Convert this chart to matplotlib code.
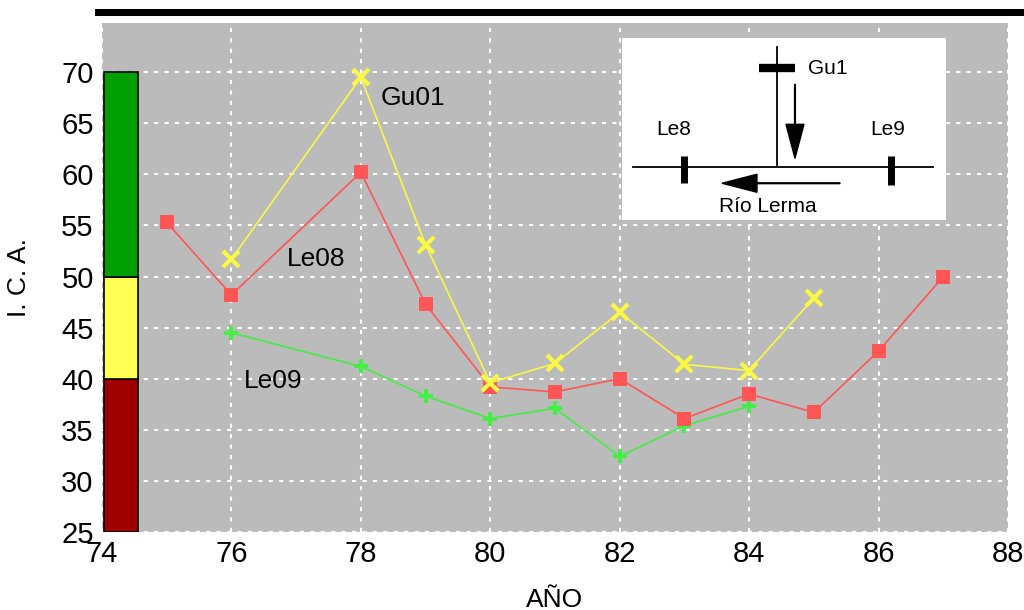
import matplotlib
matplotlib.use("Agg")
import matplotlib.pyplot as plt
from matplotlib.patches import Rectangle, FancyArrow

plt.rcParams["font.family"] = ["Liberation Sans", "DejaVu Sans"]

# data
LE08_YEARS = [75, 76, 78, 79, 80, 81, 82, 83, 84, 85, 86, 87]
LE08_ICA   = [55.3, 48.2, 60.2, 47.3, 39.2, 38.7, 40.0, 36.1, 38.5, 36.7, 42.7, 50.0]

GU01_YEARS = [76, 78, 79, 80, 81, 82, 83, 84, 85]
GU01_ICA   = [51.7, 69.5, 53.1, 39.6, 41.5, 46.5, 41.4, 40.8, 47.9]

LE09_YEARS = [76, 78, 79, 80, 81, 82, 83, 84]
LE09_ICA   = [44.5, 41.2, 38.3, 36.1, 37.1, 32.4, 35.4, 37.3]

# quality bands on the left colour bar
BAND_LOW    = [25, 40, 50]
BAND_HEIGHT = [15, 10, 20]
BAND_COLORS = ["#A00000", "#FFFF55", "#00A000"]

X_TICKS = [74, 76, 78, 80, 82, 84, 86, 88]
Y_TICKS = [25, 30, 35, 40, 45, 50, 55, 60, 65, 70]

fig = plt.figure(figsize=(10.24, 6.10), dpi=100)
ax = fig.add_axes([0.0996, 0.128, 0.8848, 0.834])
ax.set_facecolor("#BBBBBB")

ax.set_xlim(74, 88)
ax.set_ylim(25, 74.8)
ax.set_xticks(X_TICKS)
ax.set_yticks(Y_TICKS)
ax.tick_params(length=0, labelsize=21, pad=6)
ax.grid(True, color="white", linestyle=(0, (2, 3)), linewidth=1.5)
ax.set_axisbelow(True)
for s in ax.spines.values():
    s.set_visible(False)

ax.set_xlabel("AÑO", fontsize=19, labelpad=14)
ax.set_ylabel("I. C. A.", fontsize=19, labelpad=22)

# colour bar of quality classes
ax.bar([74.03] * 3, BAND_HEIGHT, bottom=BAND_LOW, width=0.52, align="edge",
       color=BAND_COLORS, edgecolor="black", linewidth=1.2, zorder=3)

ax.plot(LE09_YEARS, LE09_ICA, color="#44EE44", linewidth=1.2,
        marker="P", markersize=10, markeredgewidth=0, zorder=4)
ax.plot(LE08_YEARS, LE08_ICA, color="#FF5555", linewidth=1.2,
        marker="s", markersize=10, markeredgewidth=0, zorder=5)
ax.plot(GU01_YEARS, GU01_ICA, color="#F8F845", linewidth=1.2,
        marker="x", markersize=11, markeredgewidth=3, zorder=6)

ax.text(78.3, 67.5, "Gu01", fontsize=19, va="center", ha="left", zorder=7)
ax.text(76.85, 51.7, "Le08", fontsize=19, va="center", ha="left", zorder=7)
ax.text(76.2, 39.8, "Le09", fontsize=19, va="center", ha="left", zorder=7)

# black title bar at the top (title text cut off in the reference)
fig.patches.append(Rectangle((0.093, 0.973), 0.907, 0.0115, transform=fig.transFigure,
                             facecolor="black", edgecolor="none"))

# inset schematic of the river, in pixel-like coordinates
ins = fig.add_axes([0.6074, 0.639, 0.3164, 0.298])
ins.set_xlim(622, 946)
ins.set_ylim(220, 38)
ins.set_xticks([])
ins.set_yticks([])
ins.set_facecolor("white")
for s in ins.spines.values():
    s.set_visible(False)

ins.plot([633, 933], [167, 167], color="black", linewidth=1.3)
ins.plot([684, 684], [156, 183], color="black", linewidth=5, solid_capstyle="butt")
ins.plot([891, 891], [156, 185], color="black", linewidth=5, solid_capstyle="butt")
ins.plot([777, 777], [47, 165], color="black", linewidth=1.3)
ins.plot([759, 795], [68, 68], color="black", linewidth=6, solid_capstyle="butt")
ins.add_patch(FancyArrow(795, 84, 0, 74, width=0.8, head_width=18, head_length=34,
                         length_includes_head=True, color="black"))
ins.add_patch(FancyArrow(840, 183, -118, 0, width=0.8, head_width=18, head_length=35,
                         length_includes_head=True, color="black"))
ins.text(808, 68, "Gu1", fontsize=15, va="center", ha="left")
ins.text(674, 129, "Le8", fontsize=15, va="center", ha="center")
ins.text(888, 129, "Le9", fontsize=15, va="center", ha="center")
ins.text(768, 206, "Río Lerma", fontsize=15, va="center", ha="center")

fig.savefig("out.png", dpi=100)
